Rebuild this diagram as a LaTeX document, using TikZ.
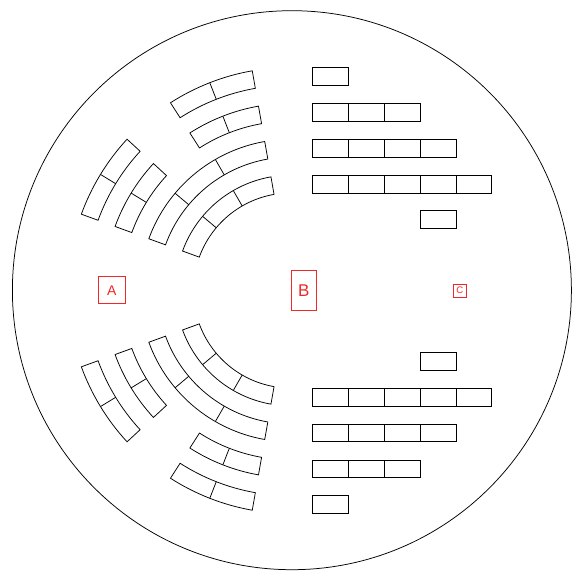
\documentclass[tikz,border=0pt]{standalone}
\usepackage{fontspec}
\setsansfont{Liberation Sans}
\definecolor{labred}{RGB}{240,40,40}
\newcommand\seatarc[3]{%
  \draw[seat] ({#2}:{#1}) arc[start angle=#2,end angle=#3,radius=#1]
    -- ({#3}:{#1+17.8}) arc[start angle=#3,end angle=#2,radius={#1+17.8}] -- cycle;}
\newcommand\seatdiv[2]{\draw[seat] ({#2}:{#1}) -- ({#2}:{#1+17.8});}
\newcommand\seatbox[2]{\draw[seat] ({21.7+35.8*#2},#1) rectangle ({21.7+35.8*(#2+1)},{#1+17.8});}
\begin{document}
\begin{tikzpicture}[x=1pt,y=1pt,
  seat/.style={draw=black,line width=0.75pt,line join=miter},
  lab/.style={draw=labred,text=labred,line width=0.75pt,inner sep=0pt}]
\useasboundingbox (-291,-280.5) rectangle (283,290.5);
\draw[line width=0.75pt] (0.9,0.3) circle[radius=279.5];
\foreach \s in {1,-1}{
  \begin{scope}[yscale=\s]
    % rows 1 and 2: two short arcs each
    \foreach \r in {205.3,169.4}{
      \seatarc{\r}{100}{122.7}
      \seatdiv{\r}{111.35}
      \seatarc{\r}{137.3}{160}
      \seatdiv{\r}{148.65}
    }
    % rows 3 and 4: one long arc each
    \foreach \r in {133.5,97.6}{
      \seatarc{\r}{100}{160}
      \seatdiv{\r}{120}
      \seatdiv{\r}{140}
    }
    % straight rows
    \seatbox{205.3}{0}
    \foreach \i in {0,1,2}{\seatbox{169.4}{\i}}
    \foreach \i in {0,...,3}{\seatbox{133.5}{\i}}
    \foreach \i in {0,...,4}{\seatbox{97.6}{\i}}
    \seatbox{62}{3}
  \end{scope}
}
\node[lab,minimum width=27pt,minimum height=27pt,font=\sffamily\fontsize{14}{14}\selectfont] (A) at (-179.2,0.3) {A};
\node[lab,minimum width=25.7pt,minimum height=40pt,font=\sffamily\fontsize{17}{17}\selectfont] (B) at (12.85,0.2) {B};
\node[lab,minimum width=13pt,minimum height=13pt,font=\sffamily\fontsize{9.5}{9.5}\selectfont] (C) at (168.8,0) {C};
\end{tikzpicture}
\end{document}
